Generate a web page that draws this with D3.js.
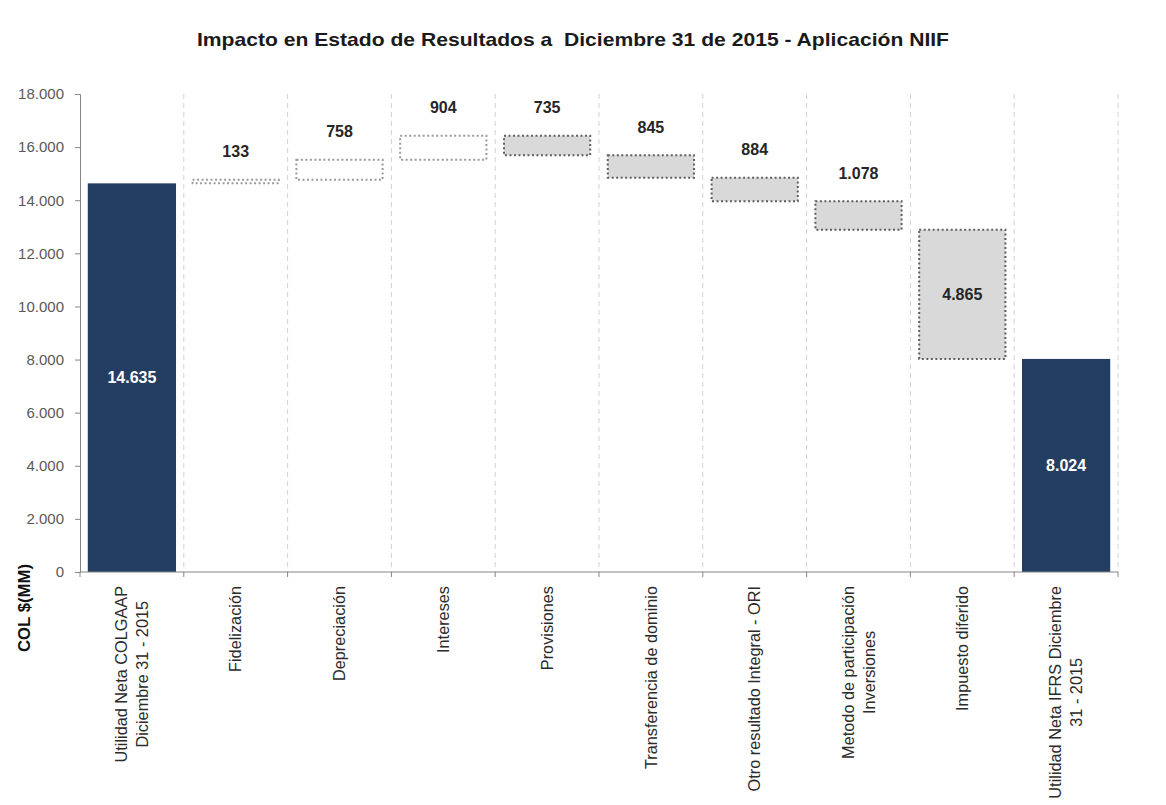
<!DOCTYPE html>
<html><head><meta charset="utf-8">
<script src="https://cdnjs.cloudflare.com/ajax/libs/d3/7.8.5/d3.min.js"></script>
<style>
body{margin:0;background:#fff;}
svg{display:block;font-family:"Liberation Sans",Arial,sans-serif;}
</style>
</head><body>
<svg id="chart" width="1166" height="805"></svg>
<script>
// ---- data ----
const title = "Impacto en Estado de Resultados a  Diciembre 31 de 2015 - Aplicación NIIF";
const yAxisLabel = "COL $(MM)";
const categories = [
  "Utilidad Neta COLGAAP|Diciembre 31 - 2015",
  "Fidelización",
  "Depreciación",
  "Intereses",
  "Provisiones",
  "Transferencia de dominio",
  "Otro resultado Integral - ORI",
  "Metodo de participación|Inversiones",
  "Impuesto diferido",
  "Utilidad Neta IFRS Diciembre|31 - 2015"
];
const values = [14635, 133, 758, 904, -735, -845, -884, -1078, -4865, 8024];
const kinds  = ["total","up","up","up","down","down","down","down","down","total"];
const yTicks = [0, 2000, 4000, 6000, 8000, 10000, 12000, 14000, 16000, 18000];

(function () {
// ---- layout ----
const mLeft = 80, mRight = 1118, mTop = 94, mBottom = 572;
const svg = d3.select("#chart");

const loc = d3.formatLocale({decimal: ",", thousands: ".", grouping: [3], currency: ["$", ""]});
const fmt = loc.format(",d");

const x = d3.scaleBand().domain(categories).range([mLeft, mRight]).paddingInner(0.15).paddingOuter(0.075);
const y = d3.scaleLinear().domain([0, d3.max(yTicks)]).range([mBottom, mTop]);
const step = x.step();
const boundary = c => x(c) - step * x.paddingInner() / 2;

// waterfall
let run = 0;
const bars = values.map((v, i) => {
  if (kinds[i] === "total") { run = v; return {cat: categories[i], lo: 0, hi: v, v, kind: kinds[i]}; }
  const s = run; run += v;
  return {cat: categories[i], lo: Math.min(s, run), hi: Math.max(s, run), v, kind: kinds[i]};
});

// title
svg.append("text")
  .attr("x", 573).attr("y", 46)
  .attr("text-anchor", "middle")
  .style("white-space", "pre")
  .attr("font-size", 19).attr("font-weight", "bold").attr("fill", "#1a1a1a")
  .attr("textLength", 752).attr("lengthAdjust", "spacingAndGlyphs")
  .text(title);

// grid (dashed vertical at category boundaries)
const lastB = boundary(categories[categories.length-1]) + step;
const gridXs = categories.slice(1).map(boundary).concat([lastB]);
svg.append("g").selectAll("line").data(gridXs).join("line")
  .attr("x1", d => d).attr("x2", d => d)
  .attr("y1", y(d3.max(yTicks))).attr("y2", y(0))
  .attr("stroke", "#d2d2d2").attr("stroke-width", 1).attr("stroke-dasharray", "5,4");

// bars
svg.append("g").selectAll("rect").data(bars).join("rect")
  .attr("x", d => x(d.cat) + (d.kind === "total" ? 0 : 1))
  .attr("width", d => x.bandwidth() - (d.kind === "total" ? 0 : 2))
  .attr("y", d => y(d.hi))
  .attr("height", d => Math.max(1, y(d.lo) - y(d.hi)))
  .attr("fill", d => d.kind === "total" ? "#243e62" : d.kind === "down" ? "#d9d9d9" : "#ffffff")
  .attr("stroke", d => d.kind === "total" ? "none" : d.kind === "down" ? "#5f5f5f" : "#9a9a9a")
  .attr("stroke-width", d => d.kind === "total" ? 0 : 2)
  .attr("stroke-dasharray", "2,2.5");

// value labels
svg.append("g").selectAll("text").data(bars).join("text")
  .attr("x", d => x(d.cat) + x.bandwidth() / 2)
  .attr("y", d => {
    if (d.kind === "total" || Math.abs(d.v) > 3000) return (y(d.lo) + y(d.hi)) / 2;
    return y(d.hi) - 28;
  })
  .attr("dy", "0.35em")
  .attr("text-anchor", "middle")
  .attr("font-size", 16).attr("font-weight", "bold")
  .attr("fill", d => d.kind === "total" ? "#ffffff" : "#262626")
  .text(d => fmt(Math.abs(d.v)));

// y axis
const yAxis = svg.append("g").attr("transform", `translate(${mLeft},0)`)
  .call(d3.axisLeft(y).tickValues(yTicks).tickSize(5).tickPadding(11).tickFormat(fmt));
yAxis.select(".domain").attr("stroke", "#868686");
yAxis.selectAll(".tick line").attr("stroke", "#868686");
yAxis.selectAll(".tick text").attr("font-size", 15).attr("fill", "#595959")
  .attr("font-family", "'Liberation Sans', Arial, sans-serif");

// x axis line + boundary ticks
svg.append("line").attr("x1", mLeft).attr("x2", mRight).attr("y1", mBottom).attr("y2", mBottom)
  .attr("stroke", "#868686");
const tickXs = categories.map(boundary).concat([lastB]);
svg.append("g").selectAll("line").data(tickXs).join("line")
  .attr("x1", d => d).attr("x2", d => d).attr("y1", mBottom).attr("y2", mBottom + 5)
  .attr("stroke", "#868686");

// category labels (rotated)
const lab = svg.append("g").selectAll("g").data(categories).join("g")
  .attr("font-size", 16.3).attr("fill", "#2b2b2b");
lab.each(function(c) {
  const gg = d3.select(this);
  const lines = c.split("|");
  const ts = lines.map(l => gg.append("text").attr("text-anchor", "middle").attr("dy", "0.35em").text(l));
  const maxW = d3.max(ts, t => t.node().getComputedTextLength());
  const cx = x(c) + x.bandwidth() / 2;
  const lh = 21;
  ts.forEach((t, i) => {
    const off = (i - (lines.length - 1) / 2) * lh;
    t.attr("transform", `translate(${cx + off},${586 + maxW / 2}) rotate(-90)`);
  });
});

// y axis title
svg.append("text")
  .attr("transform", "translate(24,608) rotate(-90)")
  .attr("text-anchor", "middle").attr("dy", "0.35em")
  .attr("font-size", 16).attr("font-weight", "bold").attr("fill", "#111")
  .attr("textLength", 88).attr("lengthAdjust", "spacingAndGlyphs")
  .text(yAxisLabel);
})();
</script>
</body></html>
